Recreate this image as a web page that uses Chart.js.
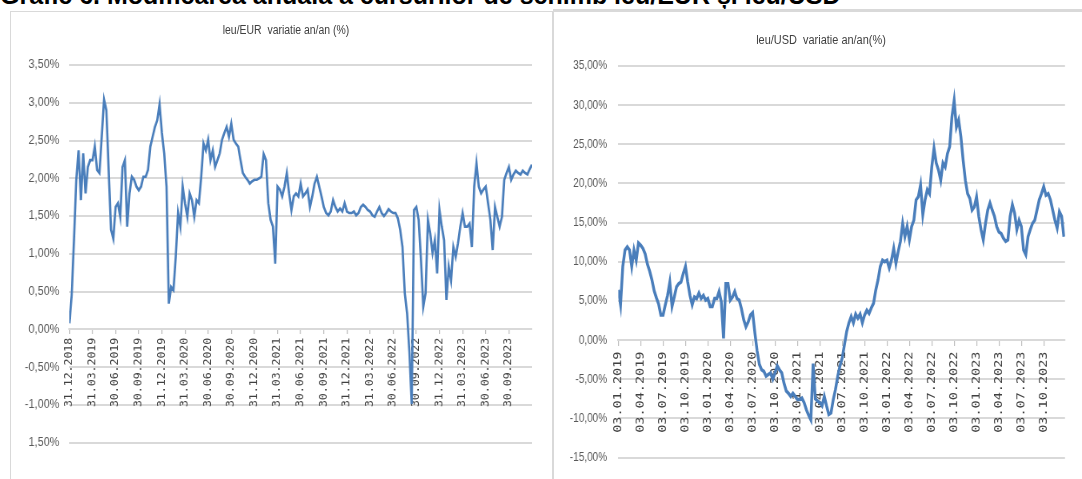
<!DOCTYPE html>
<html lang="ro">
<head>
<meta charset="utf-8">
<title>Modificarea anuală a cursurilor de schimb leu/EUR și leu/USD</title>
<script src="https://cdn.jsdelivr.net/npm/chart.js@4.4.0/dist/chart.umd.min.js"></script>
<style>
  html, body { margin: 0; padding: 0; background: #fff; }
  body { width: 1082px; height: 479px; position: relative; overflow: hidden; }
  .heading {
    position: absolute; left: 0; top: -17px; margin: 0;
    font: bold 25px "Liberation Sans", Arial, sans-serif; line-height: 25px;
    color: #000; white-space: nowrap;
  }
  .panel { position: absolute; border: 1px solid #d9d9d9; box-sizing: border-box; }
  #panelEur { left: 10px; top: 11px; width: 543px; height: 480px; }
  #panelUsd { left: 553px; top: 9px; width: 540px; height: 480px; border-top: 3px solid #d9d9d9; }
  .plot-title {
    position: absolute; margin: 0; white-space: pre; color: #404040;
    font-family: "Liberation Sans", Arial, sans-serif; font-weight: normal;
    transform-origin: 50% 50%;
  }
  #titleEur { left: 286px; top: 23px; font-size: 12px; line-height: 14px; transform: translateX(-50%) scaleX(0.87); }
  #titleUsd { left: 821px; top: 32px; font-size: 13.7px; line-height: 16px; transform: translateX(-50%) scaleX(0.8); }
  /* the plots are drawn wide and condensed horizontally on screen */
  canvas { position: absolute; transform-origin: 0 0; }
  #eur { left: 10px; top: 12px; transform: scaleX(0.87); }
  #usd { left: 554px; top: 10px; transform: scaleX(0.8); }
</style>
</head>
<body>
<h1 class="heading">Grafic 6. Modificarea anuală a cursurilor de schimb leu/EUR și leu/USD</h1>
<div class="panel" id="panelEur"></div>
<div class="panel" id="panelUsd"></div>
<canvas id="eur" width="623" height="467"></canvas>
<canvas id="usd" width="660" height="469"></canvas>
<h2 class="plot-title" id="titleEur">leu/EUR  variatie an/an (%)</h2>
<h2 class="plot-title" id="titleUsd">leu/USD  variatie an/an(%)</h2>
<script>
// Quarter-end dates shown on the category axes
const quartersEur = ['31.12.2018','31.03.2019','30.06.2019','30.09.2019','31.12.2019','31.03.2020',
  '30.06.2020','30.09.2020','31.12.2020','31.03.2021','30.06.2021','30.09.2021','31.12.2021',
  '31.03.2022','30.06.2022','30.09.2022','31.12.2022','31.03.2023','30.06.2023','30.09.2023'];
const quartersUsd = ['03.01.2019','03.04.2019','03.07.2019','03.10.2019','03.01.2020','03.04.2020',
  '03.07.2020','03.10.2020','03.01.2021','03.04.2021','03.07.2021','03.10.2021','03.01.2022',
  '03.04.2022','03.07.2022','03.10.2022','03.01.2023','03.04.2023','03.07.2023','03.10.2023'];

// Observations per quarter in both series
const pointsPerQuarter = 10;

// leu/EUR, annual change (%)
const eurChange = [
  0.08, 0.45, 1.18, 1.98, 2.37, 1.71, 2.33, 1.80, 2.15, 2.24,
  2.24, 2.42, 2.11, 2.07, 2.55, 3.04, 2.90, 2.11, 1.32, 1.20,
  1.62, 1.67, 1.49, 2.15, 2.24, 1.36, 1.80, 2.02, 1.98, 1.89,
  1.84, 1.89, 2.02, 2.02, 2.11, 2.42, 2.55, 2.68, 2.77, 2.98,
  2.60, 2.33, 1.89, 0.34, 0.56, 0.52, 0.96, 1.54, 1.36, 1.89,
  1.67, 1.49, 1.80, 1.71, 1.49, 1.71, 1.67, 2.02, 2.46, 2.37,
  2.51, 2.24, 2.37, 2.15, 2.24, 2.33, 2.51, 2.60, 2.68, 2.55,
  2.72, 2.51, 2.46, 2.42, 2.24, 2.07, 2.02, 1.98, 1.93, 1.96,
  1.98, 1.98, 2.00, 2.02, 2.32, 2.24, 1.67, 1.45, 1.36, 0.87,
  1.89, 1.85, 1.76, 1.89, 2.07, 1.80, 1.58, 1.76, 1.80, 1.76,
  1.93, 1.76, 1.80, 1.85, 1.62, 1.76, 1.93, 2.02, 1.89, 1.76,
  1.62, 1.54, 1.51, 1.56, 1.71, 1.62, 1.56, 1.60, 1.56, 1.67,
  1.56, 1.54, 1.54, 1.56, 1.51, 1.54, 1.62, 1.65, 1.62, 1.58,
  1.56, 1.51, 1.49, 1.56, 1.62, 1.54, 1.50, 1.54, 1.59, 1.56,
  1.54, 1.54, 1.47, 1.32, 1.09, 0.48, 0.21, -0.30, -0.99, 1.58,
  1.62, 1.45, 0.92, 0.30, 0.48, 1.45, 1.27, 1.01, 1.18, 0.74,
  1.58, 1.36, 1.18, 0.39, 0.83, 0.65, 1.09, 0.96, 1.14, 1.36,
  1.54, 1.36, 1.36, 1.40, 1.09, 1.89, 2.20, 1.89, 1.80, 1.85,
  1.89, 1.67, 1.45, 1.05, 1.62, 1.49, 1.36, 1.49, 1.98, 2.07,
  2.15, 1.98, 2.05, 2.10, 2.07, 2.05, 2.10, 2.07, 2.05, 2.12, 2.18
];

// leu/USD, annual change (%)
const usdChange = [
  6.4, 4.5, 9.4, 11.5, 11.9, 11.5, 9.4, 11.5, 10.2, 12.4,
  12.1, 11.7, 11.0, 9.7, 8.8, 7.7, 6.3, 5.4, 4.6, 3.2,
  3.2, 4.5, 5.7, 7.4, 4.3, 5.5, 6.8, 7.2, 7.4, 8.5,
  9.4, 7.4, 5.7, 4.5, 5.5, 5.3, 6.0, 5.3, 5.7, 5.1,
  5.3, 4.3, 4.3, 5.3, 5.3, 6.2, 4.9, 0.2, 7.2, 7.2,
  5.1, 5.5, 6.2, 5.3, 5.1, 4.0, 2.6, 1.7, 2.3, 3.2,
  3.5, 0.9, -1.4, -3.1, -3.8, -4.0, -4.6, -4.4, -4.2, -5.0,
  -4.2, -3.3, -3.8, -4.2, -5.5, -6.5, -6.8, -7.2, -6.8, -7.2,
  -7.6, -7.6, -7.4, -8.0, -8.9, -9.6, -10.2, -3.0, -7.5, -7.8,
  -8.0, -8.4, -7.2, -8.4, -9.5, -9.3, -7.6, -6.3, -4.6, -3.3,
  -2.3, -0.6, 1.1, 2.2, 3.0, 2.2, 3.3, 2.8, 3.3, 2.2,
  3.2, 3.8, 3.4, 4.1, 4.7, 6.4, 7.7, 9.4, 10.2, 10.0,
  10.2, 9.2, 10.2, 11.7, 9.8, 11.3, 12.6, 14.9, 13.2, 14.5,
  12.8, 14.5, 15.3, 17.9, 18.3, 19.8, 16.0, 17.9, 19.2, 18.7,
  22.1, 24.5, 22.6, 21.7, 20.4, 22.6, 22.1, 23.8, 24.7, 28.5,
  30.6, 27.2, 28.1, 26.0, 23.0, 20.4, 18.7, 18.1, 16.6, 17.0,
  18.3, 15.8, 14.1, 12.8, 14.9, 16.6, 17.5, 16.6, 15.8, 14.5,
  13.8, 13.6, 13.0, 12.6, 12.8, 15.8, 17.3, 16.2, 14.1, 15.3,
  14.5, 11.5, 10.9, 13.2, 14.1, 14.9, 15.3, 16.6, 17.9, 18.7,
  19.6, 18.5, 18.7, 17.9, 16.6, 15.3, 14.3, 16.4, 15.8, 13.2
];

// Value-axis ticks and their printed labels (ascending)
const eurTickValues = [-1.5, -1, -0.5, 0, 0.5, 1, 1.5, 2, 2.5, 3, 3.5];
const eurTickLabels = ['1,50%', '-1,00%', '-0,50%', '0,00%', '0,50%', '1,00%', '1,50%', '2,00%', '2,50%', '3,00%', '3,50%'];
const usdTickValues = [-15, -10, -5, 0, 5, 10, 15, 20, 25, 30, 35];
const usdTickLabels = ['-15,00%', '-10,00%', '-5,00%', '0,00%', '5,00%', '10,00%', '15,00%', '20,00%', '25,00%', '30,00%', '35,00%'];

const SANS = '"Liberation Sans", Arial, sans-serif';
const MONO = '"DejaVu Sans Mono", "Liberation Mono", monospace';
const GRID = '#d9d9d9';
const LINE = '#4a7ebb';

function buildChart(canvasId, cfg) {
  return new Chart(document.getElementById(canvasId), {
    type: 'line',
    data: {
      datasets: [{
        data: cfg.values.map((v, i) => ({ x: i / pointsPerQuarter, y: v })),
        borderColor: LINE,
        borderWidth: cfg.lineWidth,
        pointRadius: 0,
        tension: 0,
        fill: false
      }]
    },
    options: {
      responsive: false,
      animation: false,
      devicePixelRatio: 1,
      layout: { padding: cfg.padding },
      plugins: {
        legend: { display: false },
        tooltip: { enabled: false },
        title: { display: false }
      },
      scales: {
        x: {
          type: 'linear',
          min: 0,
          max: cfg.xMax,
          position: { y: 0 },
          afterFit: s => { s.height = 0; },
          afterBuildTicks: s => { s.ticks = cfg.quarters.map((_, i) => ({ value: i })); },
          grid: { display: true, drawOnChartArea: false, drawTicks: true, tickLength: cfg.tickLength, color: '#bfbfbf', lineWidth: 1.2 },
          border: { display: true, color: GRID, width: 2 },
          ticks: {
            autoSkip: false,
            minRotation: 90,
            maxRotation: 90,
            padding: cfg.xPad,
            color: '#404040',
            font: { family: MONO, size: cfg.xFont },
            callback: (v, i) => cfg.quarters[i]
          }
        },
        y: {
          min: cfg.yTicks[0],
          max: cfg.yTicks[cfg.yTicks.length - 1],
          afterFit: s => { s.width = cfg.yWidth; },
          afterBuildTicks: s => { s.ticks = cfg.yTicks.map(v => ({ value: v })); },
          grid: { color: GRID, lineWidth: 2, drawTicks: false },
          border: { display: false },
          ticks: {
            padding: cfg.yPad,
            color: '#595959',
            font: { family: SANS, size: cfg.yFont },
            callback: (v, i) => cfg.yLabels[i]
          }
        }
      }
    }
  });
}

buildChart('eur', {
  values: eurChange,
  quarters: quartersEur,
  xMax: 20,
  yTicks: eurTickValues,
  yLabels: eurTickLabels,
  yWidth: 68.2,
  yPad: 11.5,
  yFont: 12.5,
  xFont: 11.5,
  xPad: 4.5,
  tickLength: 4,
  lineWidth: 2.6,
  padding: { left: 0, right: 23, top: 53, bottom: 36.4 }
});

buildChart('usd', {
  values: usdChange,
  quarters: quartersUsd,
  xMax: 19.95,
  yTicks: usdTickValues,
  yLabels: usdTickLabels,
  yWidth: 80.4,
  yPad: 14,
  yFont: 12.5,
  xFont: 13.5,
  xPad: 6.5,
  tickLength: 5,
  lineWidth: 3.5,
  padding: { left: 0, right: 21.25, top: 56, bottom: 20.7 }
});
</script>
</body>
</html>
